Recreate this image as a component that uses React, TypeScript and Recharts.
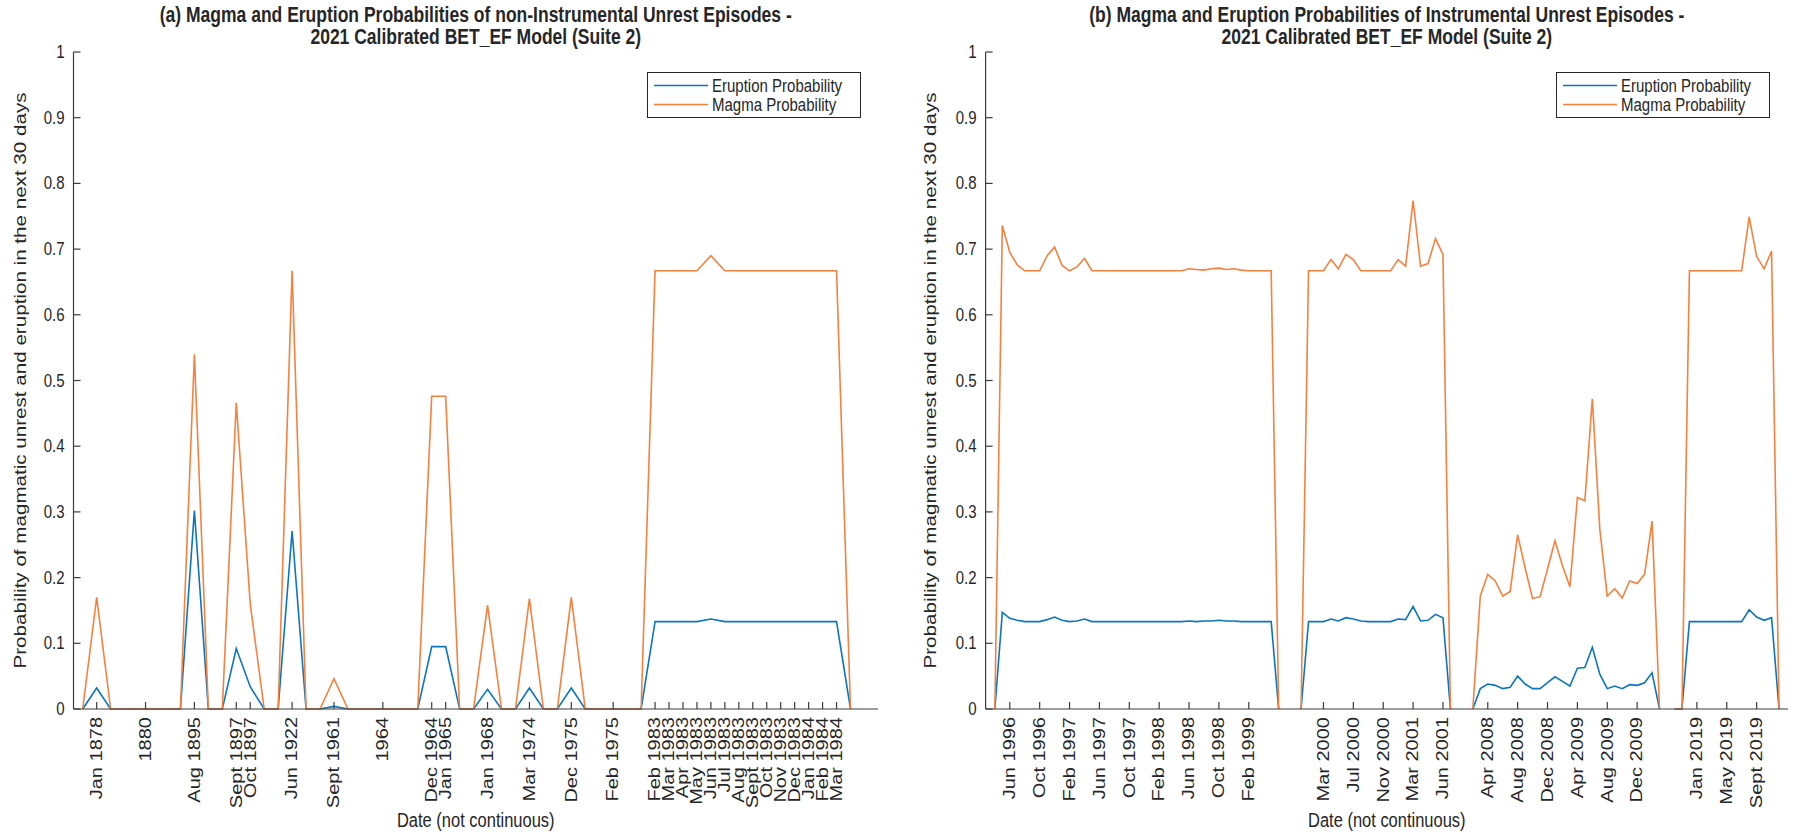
import React from "react";
import { LineChart, Line, XAxis, YAxis, Legend } from "recharts";

// ---- panel (a): non-instrumental unrest episodes, one point per step ----
const magmaA = [
  0, 0.17, 0, 0, 0, 0, 0, 0, 0.54, 0,
  0, 0.466, 0.16, 0, 0, 0.667, 0, 0, 0.046, 0,
  0, 0, 0, 0, 0, 0.476, 0.476, 0, 0, 0.158,
  0, 0, 0.168, 0, 0, 0.17, 0, 0, 0, 0,
  0, 0.667, 0.667, 0.667, 0.667, 0.69, 0.667, 0.667, 0.667, 0.667,
  0.667, 0.667, 0.667, 0.667, 0.667, 0,
];
const eruptionA = [
  0, 0.032, 0, 0, 0, 0, 0, 0, 0.302, 0,
  0, 0.092, 0.034, 0, 0, 0.271, 0, 0, 0.004, 0,
  0, 0, 0, 0, 0, 0.095, 0.095, 0, 0, 0.03,
  0, 0, 0.032, 0, 0, 0.032, 0, 0, 0, 0,
  0, 0.133, 0.133, 0.133, 0.133, 0.137, 0.133, 0.133, 0.133, 0.133,
  0.133, 0.133, 0.133, 0.133, 0.133, 0,
];
const tickPosA = [
  1, 4.5, 8, 11, 12, 15, 18, 21.5, 25, 26, 29, 32, 35, 38,
  41, 42, 43, 44, 45, 46, 47, 48, 49, 50, 51, 52, 53, 54,
];
const tickLabelA = [
  "Jan 1878", "1880", "Aug 1895", "Sept 1897", "Oct 1897", "Jun 1922", "Sept 1961",
  "1964", "Dec 1964", "Jan 1965", "Jan 1968", "Mar 1974", "Dec 1975", "Feb 1975",
  "Feb 1983", "Mar 1983", "Apr 1983", "May 1983", "Jun 1983", "Jul 1983", "Aug 1983",
  "Sept 1983", "Oct 1983", "Nov 1983", "Dec 1983", "Jan 1984", "Feb 1984", "Mar 1984",
];

// ---- panel (b): instrumental unrest episodes, monthly, null = break between episodes ----
const magmaB = [
  0, 0.736, 0.695, 0.676, 0.667, 0.667, 0.667, 0.69, 0.703, 0.675,
  0.667, 0.673, 0.686, 0.667, 0.667, 0.667, 0.667, 0.667, 0.667, 0.667,
  0.667, 0.667, 0.667, 0.667, 0.667, 0.667, 0.67, 0.669, 0.668, 0.67,
  0.671, 0.669, 0.67, 0.668, 0.667, 0.667, 0.667, 0.667, 0, null,
  null, 0, 0.667, 0.667, 0.667, 0.684, 0.67, 0.692, 0.684, 0.667,
  0.667, 0.667, 0.667, 0.667, 0.684, 0.674, 0.774, 0.674, 0.678, 0.716,
  0.692, 0, null, null, 0, 0.172, 0.205, 0.195, 0.172, 0.179,
  0.265, 0.215, 0.168, 0.171, 0.213, 0.256, 0.218, 0.186, 0.322, 0.317,
  0.472, 0.274, 0.172, 0.183, 0.169, 0.195, 0.191, 0.205, 0.286, 0,
  null, 0, 0, 0.667, 0.667, 0.667, 0.667, 0.667, 0.667, 0.667,
  0.667, 0.749, 0.689, 0.67, 0.697, 0,
];
const eruptionB = [
  0, 0.147, 0.138, 0.135, 0.133, 0.133, 0.133, 0.136, 0.14, 0.135,
  0.133, 0.134, 0.137, 0.133, 0.133, 0.133, 0.133, 0.133, 0.133, 0.133,
  0.133, 0.133, 0.133, 0.133, 0.133, 0.133, 0.134, 0.133, 0.134, 0.134,
  0.135, 0.134, 0.134, 0.133, 0.133, 0.133, 0.133, 0.133, 0, null,
  null, 0, 0.133, 0.133, 0.133, 0.137, 0.134, 0.139, 0.137, 0.134,
  0.133, 0.133, 0.133, 0.133, 0.137, 0.136, 0.156, 0.134, 0.135, 0.144,
  0.139, 0, null, null, 0, 0.031, 0.038, 0.036, 0.031, 0.033,
  0.05, 0.038, 0.031, 0.031, 0.04, 0.049, 0.042, 0.035, 0.062, 0.063,
  0.094, 0.053, 0.031, 0.035, 0.031, 0.037, 0.036, 0.04, 0.055, 0,
  null, 0, 0, 0.133, 0.133, 0.133, 0.133, 0.133, 0.133, 0.133,
  0.133, 0.151, 0.14, 0.135, 0.139, 0,
];
const tickPosB = [2, 6, 10, 14, 18, 22, 26, 30, 34, 44, 48, 52, 56, 60, 66, 70, 74, 78, 82, 86, 94, 98, 102];
const tickLabelB = [
  "Jun 1996", "Oct 1996", "Feb 1997", "Jun 1997", "Oct 1997", "Feb 1998", "Jun 1998",
  "Oct 1998", "Feb 1999", "Mar 2000", "Jul 2000", "Nov 2000", "Mar 2001", "Jun 2001",
  "Apr 2008", "Aug 2008", "Dec 2008", "Apr 2009", "Aug 2009", "Dec 2009",
  "Jan 2019", "May 2019", "Sept 2019",
];

const yTicks = [0, 0.1, 0.2, 0.3, 0.4, 0.5, 0.6, 0.7, 0.8, 0.9, 1];

const INK = "#262626";
const AXIS = "#3c3c3c";
const BLUE = "#0a76c0";
const ORANGE = "#f7803e";
const FONT = "'Liberation Sans', Arial, Helvetica, sans-serif";
const STRETCH = 1.25; // the figure's text is drawn taller than wide

const PLOT_TOP = 52;
const PLOT_BOTTOM = 709;
const H = 832;

const YLABEL = "Probability of magmatic unrest and eruption in the next 30 days";

function XTick(props: any) {
  const { x, y, payload, positions, labels } = props;
  const i = positions.indexOf(payload.value);
  return (
    <g transform={`translate(${x},${y}) scale(1,${STRETCH}) rotate(-90)`}>
      <text x={0} y={0} textAnchor="end" dominantBaseline="central" fontSize={16} fill={INK} fontFamily={FONT}>
        {i >= 0 ? labels[i] : ""}
      </text>
    </g>
  );
}

function YTick(props: any) {
  const { x, y, payload } = props;
  return (
    <g transform={`translate(${x},${y}) scale(1,${STRETCH})`}>
      <text x={0} y={0} textAnchor="end" dominantBaseline="central" fontSize={15} fill={INK} fontFamily={FONT}>
        {String(payload.value)}
      </text>
    </g>
  );
}

const yTitle = (cx: number) => (props: any) => {
  const vb = props.viewBox || {};
  const cy = (vb.y ?? 0) + (vb.height ?? 0) / 2;
  return (
    <g transform={`translate(${cx},${cy}) scale(1,${STRETCH}) rotate(-90)`}>
      <text x={0} y={0} textAnchor="middle" dominantBaseline="central" fontSize={16.5} fill={INK} fontFamily={FONT}>
        {YLABEL}
      </text>
    </g>
  );
};

const xTitle = (props: any) => {
  const vb = props.viewBox || {};
  const cx = (vb.x ?? 0) + (vb.width ?? 0) / 2;
  return (
    <g transform={`translate(${cx},${820}) scale(1,${STRETCH})`}>
      <text x={0} y={0} textAnchor="middle" dominantBaseline="central" fontSize={16.5} fill={INK} fontFamily={FONT}>
        Date (not continuous)
      </text>
    </g>
  );
};

function LegendBox(props: any) {
  const items = props.payload || [];
  return (
    <div
      style={{
        border: `1px solid ${INK}`,
        background: "#fff",
        width: 214,
        height: 46,
        boxSizing: "border-box",
        paddingTop: 3,
        fontFamily: FONT,
      }}
    >
      {items.map((it: any) => (
        <div key={it.value} style={{ display: "flex", alignItems: "center", height: 19 }}>
          <svg width={64} height={19} style={{ flex: "none" }}>
            <line x1={6} x2={60} y1={9.5} y2={9.5} stroke={it.color} strokeWidth={1.6} />
          </svg>
          <span
            style={{
              fontSize: 15,
              lineHeight: "15px",
              color: INK,
              display: "inline-block",
              transform: `scaleY(${STRETCH})`,
              whiteSpace: "nowrap",
            }}
          >
            {it.value}
          </span>
        </div>
      ))}
    </div>
  );
}

function Panel(props: any) {
  const { width, plotLeft, plotRight, domain, rows, ticks, labels, yLabelX, legendLeft } = props;
  const yAxisW = 40;
  const plotH = PLOT_BOTTOM - PLOT_TOP;
  return (
    <LineChart
      width={width}
      height={H}
      data={rows}
      margin={{
        top: PLOT_TOP,
        left: plotLeft - yAxisW,
        right: width - plotRight,
        bottom: H - PLOT_BOTTOM - 118,
      }}
    >
      <XAxis
        dataKey="x"
        type="number"
        domain={domain}
        allowDataOverflow
        ticks={ticks}
        interval={0}
        height={118}
        tickSize={-7}
        tickMargin={15}
        stroke={AXIS}
        strokeWidth={1.2}
        tick={<XTick positions={ticks} labels={labels} />}
        label={{ content: xTitle }}
      />
      <XAxis
        xAxisId="top"
        orientation="top"
        dataKey="x"
        type="number"
        domain={domain}
        allowDataOverflow
        ticks={ticks}
        interval={0}
        height={0}
        tickSize={-7}
        tick={false}
        stroke={AXIS}
        strokeWidth={1.2}
      />
      <YAxis
        type="number"
        domain={[0, 1]}
        ticks={yTicks}
        interval={0}
        width={yAxisW}
        tickSize={-7}
        tickMargin={16}
        stroke={AXIS}
        strokeWidth={1.2}
        tick={<YTick />}
        label={{ content: yTitle(yLabelX) }}
      />
      <YAxis
        yAxisId="right"
        orientation="right"
        type="number"
        domain={[0, 1]}
        ticks={yTicks}
        interval={0}
        width={0}
        tickSize={-7}
        tick={false}
        stroke={AXIS}
        strokeWidth={1.2}
      />
      <Legend
        layout="vertical"
        align="center"
        verticalAlign="middle"
        content={<LegendBox />}
        wrapperStyle={{ left: legendLeft, top: PLOT_TOP + 0.03 * plotH, width: 214, height: 46 }}
      />
      <Line
        name="Eruption Probability"
        dataKey="eruption"
        type="linear"
        stroke={BLUE}
        strokeWidth={1.6}
        dot={false}
        isAnimationActive={false}
      />
      <Line
        name="Magma Probability"
        dataKey="magma"
        type="linear"
        stroke={ORANGE}
        strokeWidth={1.6}
        dot={false}
        isAnimationActive={false}
      />
    </LineChart>
  );
}

function Title(props: any) {
  const { center, lines } = props;
  return (
    <div
      style={{
        position: "absolute",
        left: center - 450,
        top: 0,
        width: 900,
        textAlign: "center",
        fontFamily: FONT,
        fontWeight: "bold",
        fontSize: 17.5,
        color: INK,
      }}
    >
      {lines.map((l: string, i: number) => (
        <div
          key={i}
          style={{
            position: "absolute",
            left: 0,
            width: 900,
            top: 6 + i * 22,
            lineHeight: "16px",
            transform: `scaleY(${STRETCH})`,
            whiteSpace: "nowrap",
          }}
        >
          {l}
        </div>
      ))}
    </div>
  );
}

export default function App() {
  const rowsA = magmaA.map((m, k) => ({ x: k, magma: m, eruption: eruptionA[k] }));
  const rowsB = magmaB.map((m, j) => ({ x: j, magma: m, eruption: eruptionB[j] }));

  const aLeft = 73.5;
  const aRight = 878;
  const bOffset = 900;
  const bLeft = 985.6;
  const bRight = 1788;

  return (
    <div
      style={{
        position: "absolute",
        left: 0,
        top: 0,
        width: 1795,
        height: H,
        background: "#fff",
        overflow: "hidden",
      }}
    >
      <Title
        center={(aLeft + aRight) / 2}
        lines={[
          "(a) Magma and Eruption Probabilities of non-Instrumental Unrest Episodes -",
          "2021 Calibrated BET_EF Model (Suite 2)",
        ]}
      />
      <Title
        center={(bLeft + bRight) / 2}
        lines={[
          "(b) Magma and Eruption Probabilities of Instrumental Unrest Episodes -",
          "2021 Calibrated BET_EF Model (Suite 2)",
        ]}
      />
      <div style={{ position: "absolute", left: 0, top: 0 }}>
        <Panel
          width={900}
          plotLeft={aLeft}
          plotRight={aRight}
          domain={[-0.66, 56.97]}
          rows={rowsA}
          ticks={tickPosA}
          labels={tickLabelA}
          yLabelX={20}
          legendLeft={647}
        />
      </div>
      <div style={{ position: "absolute", left: bOffset, top: 0 }}>
        <Panel
          width={1795 - bOffset}
          plotLeft={bLeft - bOffset}
          plotRight={bRight - bOffset}
          domain={[-1.24, 106.2]}
          rows={rowsB}
          ticks={tickPosB}
          labels={tickLabelB}
          yLabelX={30}
          legendLeft={1556 - bOffset}
        />
      </div>
    </div>
  );
}
